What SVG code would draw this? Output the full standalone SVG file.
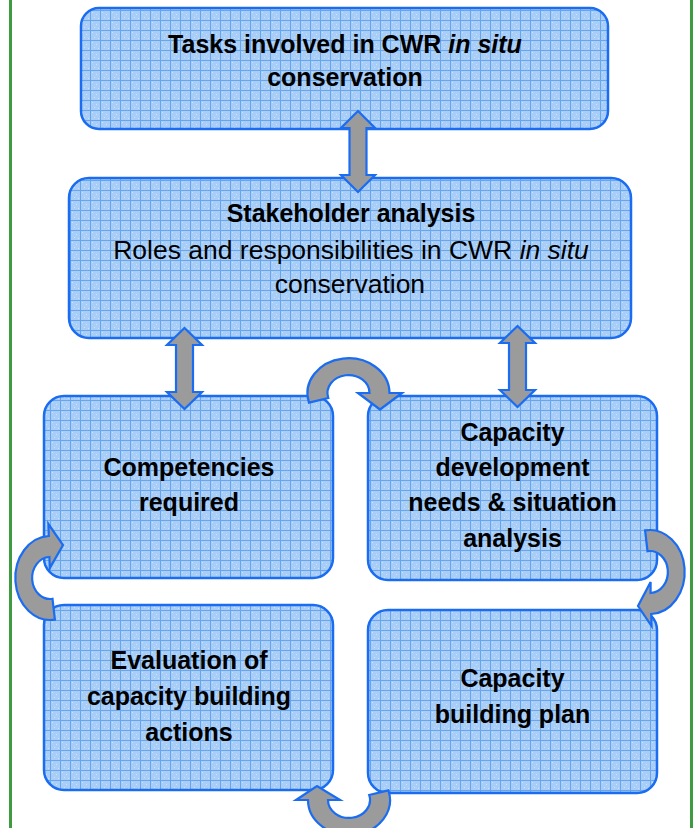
<svg xmlns="http://www.w3.org/2000/svg" width="694" height="828" viewBox="0 0 694 828">
  <defs>
    <pattern id="grid" width="10" height="10" patternUnits="userSpaceOnUse">
      <rect width="10" height="10" fill="#a8cdf6"/>
      <rect x="2" y="2" width="1" height="1" fill="#cfe4fb"/>
      <rect x="6" y="4" width="1" height="1" fill="#cfe4fb"/>
      <rect x="4" y="7" width="1" height="1" fill="#cfe4fb"/>
      <rect x="8" y="8" width="1" height="1" fill="#cfe4fb"/>
      <path d="M0 0.5H10M0.5 0V10" stroke="#67a5ec" stroke-width="1" fill="none"/>
    </pattern>
  </defs>
  <style>
    .box { fill: url(#grid); stroke: #1a6cf2; stroke-width: 2.5; }
    .arr { fill: #9b9b9b; stroke: #1a6cf2; stroke-width: 2.2; stroke-linejoin: miter; }
    .frame { stroke: #3f9b3f; stroke-width: 3; }
    text { font-family: "Liberation Sans", Arial, sans-serif; text-anchor: middle; fill: #000; }
    .b { font-weight: bold; font-size: 25px; }
    .r { font-size: 26.5px; }
    .i { font-style: italic; }
  </style>

  <rect width="694" height="828" fill="#fff"/>
  <g id="frame">
    <line class="frame" x1="10.5" y1="0" x2="10.5" y2="828"/>
    <line class="frame" x1="691.5" y1="0" x2="691.5" y2="828"/>
  </g>

  <g id="tasks">
    <rect class="box" x="81" y="8" width="527" height="121" rx="18"/>
    <text class="b" x="345" y="53">Tasks involved in CWR <tspan class="i">in situ</tspan></text>
    <text class="b" x="345" y="86">conservation</text>
  </g>

  <g id="stakeholder">
    <rect class="box" x="69" y="178" width="562" height="160" rx="20"/>
    <text class="b" x="351" y="222">Stakeholder analysis</text>
    <text class="r" x="351" y="259">Roles and responsibilities in CWR <tspan class="i">in situ</tspan></text>
    <text class="r" x="350" y="293">conservation</text>
  </g>

  <g id="competencies">
    <rect class="box" x="44" y="396" width="289" height="182" rx="20"/>
    <text class="b" x="189" y="476">Competencies</text>
    <text class="b" x="189" y="511">required</text>
  </g>

  <g id="needs">
    <rect class="box" x="368" y="396" width="289" height="184" rx="20"/>
    <text class="b" x="512.5" y="441">Capacity</text>
    <text class="b" x="512.5" y="476">development</text>
    <text class="b" x="512.5" y="511">needs &amp; situation</text>
    <text class="b" x="512.5" y="547">analysis</text>
  </g>

  <g id="evaluation">
    <rect class="box" x="44" y="605" width="289" height="185" rx="20"/>
    <text class="b" x="189" y="669">Evaluation of</text>
    <text class="b" x="189" y="705">capacity building</text>
    <text class="b" x="189" y="741">actions</text>
  </g>

  <g id="plan">
    <rect class="box" x="368" y="610" width="289" height="183" rx="20"/>
    <text class="b" x="512.5" y="687">Capacity</text>
    <text class="b" x="512.5" y="723">building plan</text>
  </g>

  <g id="connectors">
    <!-- two-headed links -->
    <path class="arr" d="M358 111 L375 128 L366.5 128 L366.5 175 L375 175 L358 192 L341 175 L349.5 175 L349.5 128 L341 128 Z"/>
    <path class="arr" d="M184.5 328 L202 345 L193 345 L193 392 L202 392 L184.5 409 L167 392 L176 392 L176 345 L167 345 Z"/>
    <path class="arr" d="M517.5 326 L535 343 L526 343 L526 390 L535 390 L517.5 407 L500 390 L509 390 L509 343 L500 343 Z"/>
    <!-- cycle arrows -->
    <path class="arr" d="M309 402.6 A41 35 0 1 1 389.5 393 L402 393 L380 409.5 L358 393 L369.5 393 A21 18 0 1 0 328.3 398 Z"/>
    <path class="arr" d="M645.1 530.4 A35 42 0 1 1 651.2 614 L651.6 626 L638 606 L650.6 582 L650.6 593 A18 21 0 1 0 647.5 551.2 Z"/>
    <path class="arr" d="M388.4 790.4 A41 35 0 1 1 308 800 L296 800 L317 786 L340 800 L328 800 A21 18 0 1 0 369.2 795 Z"/>
    <path class="arr" d="M54.9 619.6 A35 42 0 1 1 48.8 536 L48.4 524 L63 545 L49.8 568 L49.4 557 A18 21 0 1 0 52.5 598.8 Z"/>
  </g>
</svg>
